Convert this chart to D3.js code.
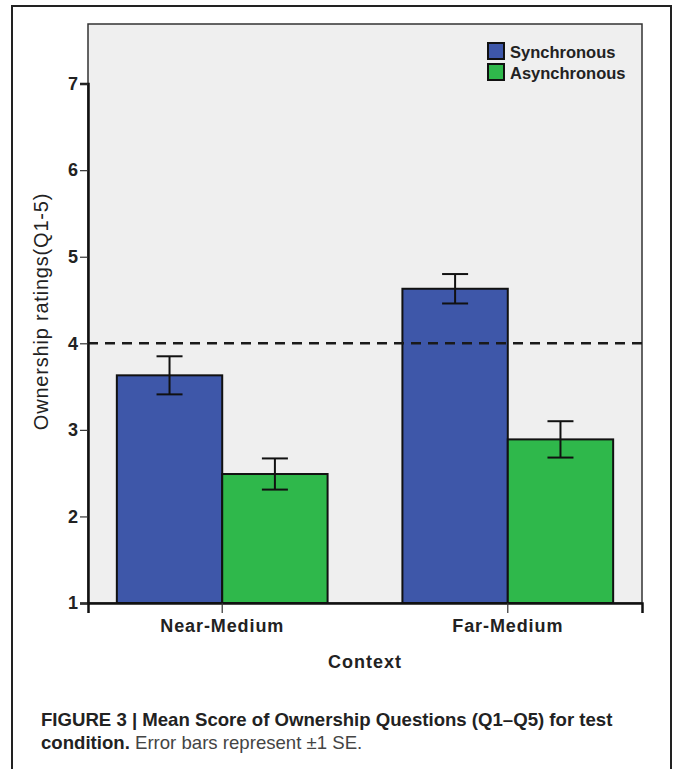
<!DOCTYPE html>
<html>
<head>
<meta charset="utf-8">
<script src="https://cdn.jsdelivr.net/npm/d3@7"></script>
<style>
  body { margin: 0; background: #fff; }
  svg { display: block; }
</style>
</head>
<body>
<svg id="chart" width="673" height="769"></svg>
<script>
// Values
var contexts = ["Near-Medium", "Far-Medium"];
var conditions = ["Synchronous", "Asynchronous"];
var meansSync = [3.63, 4.63];
var meansAsync = [2.49, 2.89];
var seSync = [0.22, 0.17];
var seAsync = [0.18, 0.21];
var yTicks = [1, 2, 3, 4, 5, 6, 7];
var refLine = 4;

var colors = {"Synchronous": "#3e57a9", "Asynchronous": "#2fb84b"};
var font = "Arial, 'Liberation Sans', sans-serif";

// plot box
var plot = {left: 88, right: 642, top: 24, bottom: 603};

var svg = d3.select("#chart");

// outer frame of the figure
svg.append("path")
   .attr("d", "M12,769 L12,6 L671,6 L671,769")
   .attr("fill", "none")
   .attr("stroke", "#222")
   .attr("stroke-width", 2);

var y = d3.scaleLinear().domain([1, 7]).range([plot.bottom, 83.6]);
var x0 = d3.scaleBand().domain(contexts)
    .range([plot.left, plot.right])
    .paddingInner(0.262).paddingOuter(0.101);
var x1 = d3.scaleBand().domain(conditions).range([0, x0.bandwidth()]);

// background of the plot
svg.append("rect")
   .attr("x", plot.left).attr("y", plot.top)
   .attr("width", plot.right - plot.left)
   .attr("height", plot.bottom - plot.top)
   .attr("fill", "#efefef")
   .attr("stroke", "#333")
   .attr("stroke-width", 1.5);

var rows = [];
contexts.forEach(function(c, i) {
  rows.push({ctx: c, cond: "Synchronous", mean: meansSync[i], se: seSync[i]});
  rows.push({ctx: c, cond: "Asynchronous", mean: meansAsync[i], se: seAsync[i]});
});

// bars
svg.append("g").selectAll("rect")
   .data(rows).enter()
   .append("rect")
   .attr("x", d => x0(d.ctx) + x1(d.cond))
   .attr("y", d => y(d.mean))
   .attr("width", x1.bandwidth())
   .attr("height", d => y(1) - y(d.mean))
   .attr("fill", d => colors[d.cond])
   .attr("stroke", "#111")
   .attr("stroke-width", 2);

// reference line at 4
svg.append("line")
   .attr("x1", plot.left).attr("x2", plot.right)
   .attr("y1", y(refLine)).attr("y2", y(refLine))
   .attr("stroke", "#1a1a1a")
   .attr("stroke-width", 2.5)
   .attr("stroke-dasharray", "10,7");

// error bars (+/- 1 SE)
var eb = svg.append("g").attr("stroke", "#111").attr("stroke-width", 2).attr("fill", "none");
rows.forEach(function(d) {
  var cx = x0(d.ctx) + x1(d.cond) + x1.bandwidth() / 2, cap = 13;
  eb.append("line").attr("x1", cx).attr("x2", cx)
    .attr("y1", y(d.mean + d.se)).attr("y2", y(d.mean - d.se));
  [d.mean + d.se, d.mean - d.se].forEach(function(v) {
    eb.append("line").attr("x1", cx - cap).attr("x2", cx + cap)
      .attr("y1", y(v)).attr("y2", y(v));
  });
});

// axes
var yAxis = d3.axisLeft(y).tickValues(yTicks).tickSize(8).tickPadding(2).tickFormat(d3.format("d"));
var gy = svg.append("g").attr("transform", "translate(" + plot.left + ",0)").call(yAxis);
gy.attr("font-size", null).attr("font-family", null);
gy.select(".domain").attr("stroke", "#111").attr("stroke-width", 2.5);
gy.selectAll(".tick line").attr("stroke", "#333").attr("stroke-width", 1.2);
gy.selectAll(".tick text")
  .attr("fill", "#222")
  .style("font-family", font)
  .style("font-weight", "bold")
  .style("font-size", "18px");

var xAxis = d3.axisBottom(x0).tickSize(10).tickPadding(6);
var gx = svg.append("g").attr("transform", "translate(0," + plot.bottom + ")").call(xAxis);
gx.attr("font-size", null).attr("font-family", null);
gx.select(".domain").attr("stroke", "#111").attr("stroke-width", 2.5);
gx.selectAll(".tick line").attr("stroke", "#333").attr("stroke-width", 1.2);
gx.selectAll(".tick text")
  .attr("fill", "#222")
  .style("font-family", font)
  .style("font-weight", "bold")
  .style("font-size", "18px")
  .style("letter-spacing", "0.9px");

// axis titles
svg.append("text")
   .attr("transform", "translate(48," + ((plot.top + plot.bottom) / 2 - 2) + ") rotate(-90)")
   .attr("text-anchor", "middle")
   .attr("fill", "#222")
   .style("font-family", font)
   .style("font-size", "20px")
   .style("letter-spacing", "0.8px")
   .text("Ownership ratings(Q1-5)");

svg.append("text")
   .attr("x", (plot.left + plot.right) / 2).attr("y", 668)
   .attr("text-anchor", "middle")
   .attr("fill", "#222")
   .style("font-family", font)
   .style("font-weight", "bold")
   .style("font-size", "18px")
   .style("letter-spacing", "1px")
   .text("Context");

// legend
var legend = svg.append("g").attr("transform", "translate(488,43)");
conditions.forEach(function(c, i) {
  var g = legend.append("g").attr("transform", "translate(0," + (i * 21) + ")");
  g.append("rect").attr("width", 16).attr("height", 16)
   .attr("fill", colors[c]).attr("stroke", "#111").attr("stroke-width", 2);
  g.append("text").attr("x", 22).attr("y", 15)
   .attr("fill", "#222")
   .style("font-family", font)
   .style("font-weight", "bold")
   .style("font-size", "16.5px")
   .text(c);
});

// caption
var cap = svg.append("text")
   .attr("x", 41).attr("y", 726)
   .attr("fill", "#222")
   .style("font-family", font)
   .style("font-size", "18.6px");
cap.append("tspan").style("font-weight", "bold")
   .text("FIGURE 3 | Mean Score of Ownership Questions (Q1\u2013Q5) for test");
var cap2 = svg.append("text")
   .attr("x", 41).attr("y", 749)
   .attr("fill", "#222")
   .style("font-family", font)
   .style("font-size", "18.6px");
cap2.append("tspan").style("font-weight", "bold").text("condition.");
cap2.append("tspan").attr("fill", "#444").text(" Error bars represent \u00b11 SE.");
</script>
</body>
</html>
